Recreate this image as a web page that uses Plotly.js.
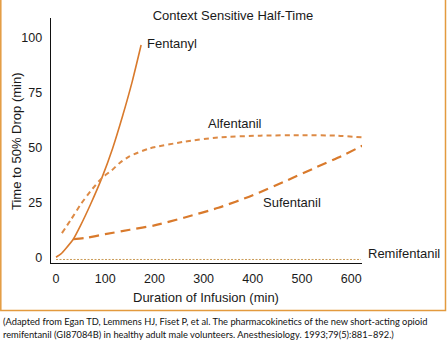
<!DOCTYPE html>
<html>
<head>
<meta charset="utf-8">
<script src="https://cdn.plot.ly/plotly-3.0.1.min.js"></script>
<style>
  html, body { margin: 0; padding: 0; background: #ffffff; }
  #chart { width: 447px; height: 341px; }
</style>
</head>
<body>
<div id="chart"></div>
<script>
// ---- Data ----
const fentanylX = [0, 10, 20, 35, 50, 70, 93, 115, 135, 155, 173];
const fentanylY = [0, 1.5, 4, 8.2, 14.5, 24, 36, 49.5, 64, 80, 96.5];

const alfentanilX = [12, 30, 50, 70, 93, 113, 130, 150, 190, 260, 330, 415, 500, 570, 624];
const alfentanilY = [11, 17, 24, 30, 36, 39.5, 43, 46, 49.5, 52.5, 54.5, 55.3, 55.5, 55.3, 54.5];

const sufentanilX = [35, 60, 100, 150, 200, 260, 330, 400, 470, 530, 580, 625];
const sufentanilY = [8.2, 8.8, 10.5, 12.5, 14.5, 18, 22.5, 28.2, 35, 41, 46, 51];

const remifentanilX = [0, 620];
const remifentanilY = [-1, -1];

const yTicks = [0, 25, 50, 75, 100];
const xTicks = [0, 100, 200, 300, 400, 500, 600];

const titleText = "Context Sensitive Half-Time";
const xTitleText = "Duration of Infusion (min)";
const yTitleText = "Time to 50% Drop (min)";
const captionLine1 = "(Adapted from Egan TD, Lemmens HJ, Fiset P, et al. The pharmacokinetics of the new short-acting opioid";
const captionLine2 = "remifentanil (GI87084B) in healthy adult male volunteers. Anesthesiology. 1993;79(5):881–892.)";

// ---- Styling ----
const FONT = "Liberation Sans, Arial, Helvetica, sans-serif";
const CAPFONT = "Lato, Noto Sans, sans-serif";
const ORANGE = "#d97a2c";

const traces = [
  { x: fentanylX, y: fentanylY, mode: "lines", line: { color: ORANGE, width: 1.6, shape: "spline", smoothing: 0.6 }, name: "Fentanyl", hoverinfo: "skip" },
  { x: alfentanilX, y: alfentanilY, mode: "lines", line: { color: "#dd8a45", width: 2, dash: "5px,4px", shape: "spline", smoothing: 0.6 }, name: "Alfentanil", hoverinfo: "skip" },
  { x: sufentanilX, y: sufentanilY, mode: "lines", line: { color: ORANGE, width: 2.2, dash: "10px,6px", shape: "spline", smoothing: 0.6 }, name: "Sufentanil", hoverinfo: "skip" },
  { x: remifentanilX, y: remifentanilY, mode: "lines", line: { color: "#c99a55", width: 1, dash: "2px,1.5px" }, name: "Remifentanil", hoverinfo: "skip" }
];

// helpers: pixel -> paper
const L = 51, R = 362, T = 18, B = 263;
const px = v => (v - L) / (R - L);
const py = v => (B - v) / (B - T);

const layout = {
  width: 447, height: 341,
  margin: { l: L, r: 447 - R, t: T, b: 341 - B, pad: 0 },
  paper_bgcolor: "#ffffff", plot_bgcolor: "#ffffff",
  showlegend: false,
  font: { family: FONT, size: 13, color: "#1a1a1a" },
  title: { text: titleText, font: { family: FONT, size: 13, color: "#1a1a1a" },
           xref: "paper", x: px(233), xanchor: "center",
           yref: "container", y: 1 - 15 / 341, yanchor: "middle" },
  xaxis: {
    range: [-10.2, 622], showgrid: false, zeroline: false,
    showline: true, linecolor: "#111", linewidth: 1.3,
    tickvals: xTicks, ticks: "", ticklabelstandoff: 4,
    tickfont: { family: FONT, size: 12.5, color: "#1a1a1a" }, fixedrange: true
  },
  yaxis: {
    range: [-2.6, 108.8], showgrid: false, zeroline: false,
    showline: true, linecolor: "#111", linewidth: 1.3,
    tickvals: yTicks, ticks: "", ticklabelstandoff: 5,
    tickfont: { family: FONT, size: 12.5, color: "#1a1a1a" }, fixedrange: true
  },
  shapes: [
    { type: "rect", xref: "paper", yref: "paper",
      x0: px(0.8), x1: px(445.5), y0: py(310.5), y1: py(-3),
      line: { color: "#e39a3e", width: 1.5 }, fillcolor: "rgba(0,0,0,0)", layer: "below" }
  ],
  annotations: [
    { text: "Fentanyl", xref: "x", yref: "y", x: 181, y: 97.4, xanchor: "left", yanchor: "middle", showarrow: false, font: { size: 13 } },
    { text: "Alfentanil", xref: "x", yref: "y", x: 364, y: 61, xanchor: "center", yanchor: "middle", showarrow: false, font: { size: 13 } },
    { text: "Sufentanil", xref: "x", yref: "y", x: 479, y: 24.7, xanchor: "center", yanchor: "middle", showarrow: false, font: { size: 13 } },
    { text: "Remifentanil", xref: "paper", yref: "paper", x: px(366), y: py(253), xanchor: "left", yanchor: "middle", showarrow: false, font: { size: 13 } },
    { text: xTitleText, xref: "paper", yref: "paper", x: px(206), y: py(297), xanchor: "center", yanchor: "middle", showarrow: false, font: { size: 13 } },
    { text: yTitleText, xref: "paper", yref: "paper", x: px(16), y: py(141), xanchor: "center", yanchor: "middle", textangle: -90, showarrow: false, font: { size: 13 } },
    { text: captionLine1, xref: "paper", yref: "paper", x: px(1), y: py(321), xanchor: "left", yanchor: "middle", showarrow: false, font: { family: CAPFONT, size: 9.3, color: "#111" } },
    { text: captionLine2, xref: "paper", yref: "paper", x: px(1), y: py(334), xanchor: "left", yanchor: "middle", showarrow: false, font: { family: CAPFONT, size: 9.3, color: "#111" } }
  ]
};

Plotly.newPlot("chart", traces, layout, { staticPlot: true, displayModeBar: false });
</script>
</body>
</html>
